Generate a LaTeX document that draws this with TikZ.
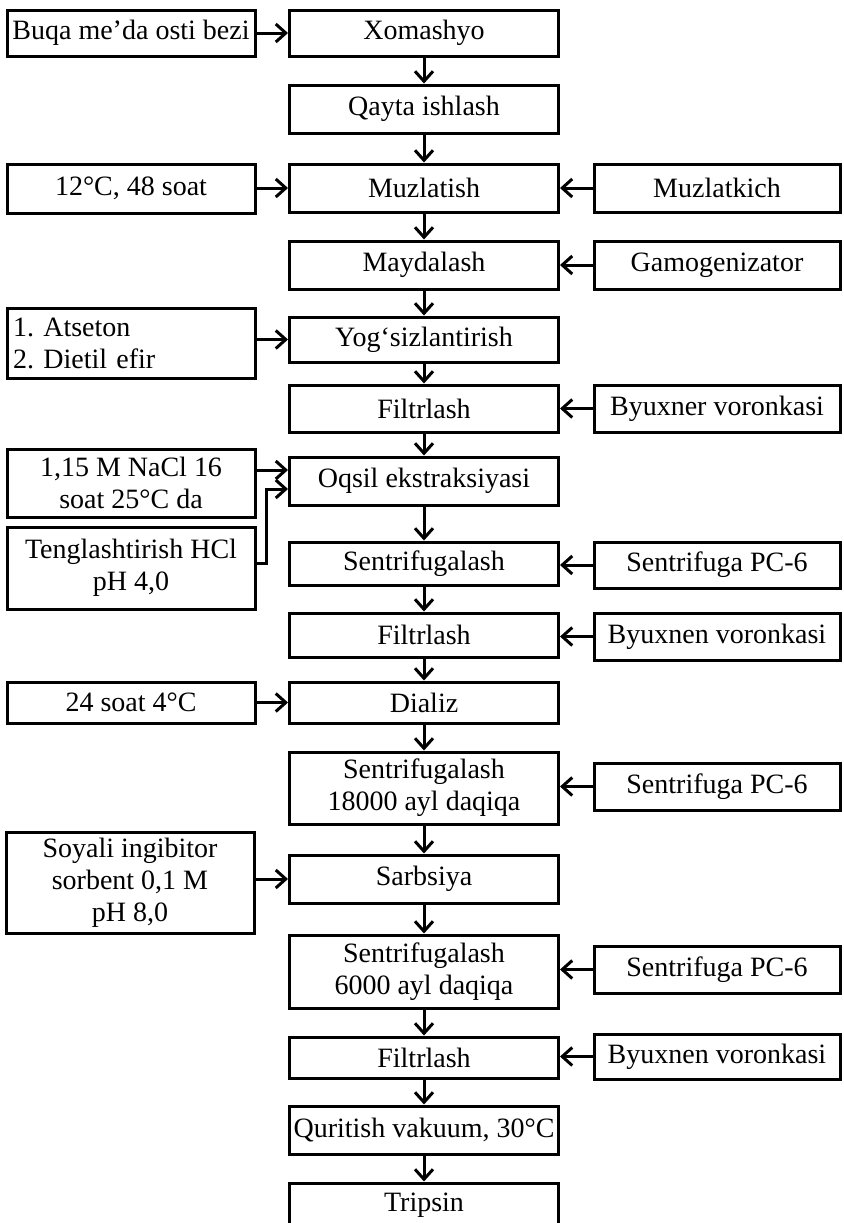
\documentclass[tikz,border=0pt]{standalone}
\usepackage{fontspec}
\setmainfont{Liberation Serif}
\usepackage{tikz}
\usetikzlibrary{arrows.meta}
\frenchspacing

\begin{document}
\begin{tikzpicture}[
  x=0.5pt, y=-0.5pt,
  font=\fontsize{14}{16}\selectfont,
  quti/.style={draw, line width=1.5pt, inner sep=1.5pt, align=center},
  chap/.style={quti, minimum width=124pt},
  orta/.style={quti, minimum width=134.5pt},
  ong/.style={quti, minimum width=123pt},
  strelka/.style={-{Straight Barb[length=5pt,width=9pt]}, line width=1.5pt}
]
  \useasboundingbox (0,0) rectangle (843,1223);

  % --- markaziy ustun (jarayon bosqichlari)
  \node[orta, minimum height=23pt] (xom) at (424,33) {Xomashyo};
  \node[orta, minimum height=24pt] (qayta) at (424,109) {Qayta ishlash};
  \node[orta, minimum height=24pt] (muz) at (424,188) {Muzlatish};
  \node[orta, minimum height=24pt] (may) at (424,265) {Maydalash};
  \node[orta, minimum height=22.5pt] (yog) at (424,339.5) {Yog‘sizlantirish};
  \node[orta, minimum height=23.5pt] (filt1) at (424,408.5) {Filtrlash};
  \node[orta, minimum height=24pt] (oqsil) at (424,481) {Oqsil ekstraksiyasi};
  \node[orta, minimum height=21.5pt] (sent1) at (424,563.5) {Sentrifugalash};
  \node[orta, minimum height=22pt] (filt2) at (424,635) {Filtrlash};
  \node[orta, minimum height=20.5pt] (dializ) at (424,702.5) {Dializ};
  \node[orta, minimum height=36pt] (sent2) at (424,788) {Sentrifugalash\\18000 ayl daqiqa};
  \node[orta, minimum height=24pt] (sarb) at (424,879) {Sarbsiya};
  \node[orta, minimum height=36.5pt] (sent3) at (424,971.5) {Sentrifugalash\\6000 ayl daqiqa};
  \node[orta, minimum height=20.5pt] (filt3) at (424,1057.5) {Filtrlash};
  \node[orta, minimum height=24pt] (quri) at (424,1130) {Quritish vakuum, 30°C};
  \node[orta, minimum height=22pt] (trip) at (424,1205) {Tripsin};

  % --- chap ustun (sharoit va reagentlar)
  \node[chap, minimum height=23pt] (buqa) at (131,33) {Buqa me’da osti bezi};
  \node[chap, minimum height=24.5pt] (harorat) at (131,188.5) {12°C, 48 soat};
  \node[quti, text width=118pt, inner xsep=3pt, align=left, minimum height=35pt] (atseton) at (131,343)
        {1. Atseton\\2. Dietil efir};
  \node[chap, minimum height=34pt] (nacl) at (131,483) {1,15 M NaCl 16\\soat 25°C da};
  \node[chap, minimum height=41pt] (teng) at (131,568) {Tenglashtirish HCl\\pH 4,0};
  \node[chap, minimum height=20.5pt] (soat) at (131,702.5) {24 soat 4°C};
  \node[chap, minimum height=50.5pt] (soyali) at (130,882.5)
        {Soyali ingibitor\\sorbent 0,1 M\\pH 8,0};

  % --- o'ng ustun (jihozlar)
  \node[ong, minimum height=24pt] (muzlatkich) at (717,188) {Muzlatkich};
  \node[ong, minimum height=24pt] (gamo) at (717,265) {Gamogenizator};
  \node[ong, minimum height=23.5pt] (byux1) at (717,408.5) {Byuxner voronkasi};
  \node[ong, minimum height=23pt] (pc1) at (717,565) {Sentrifuga PC-6};
  \node[ong, minimum height=23.5pt] (byux2) at (717,636.5) {Byuxnen voronkasi};
  \node[ong, minimum height=23.5pt] (pc2) at (717,786.5) {Sentrifuga PC-6};
  \node[ong, minimum height=23.5pt] (pc3) at (717,969.5) {Sentrifuga PC-6};
  \node[ong, minimum height=22.5pt] (byux3) at (717,1056.5) {Byuxnen voronkasi};

  % --- pastga strelkalar
  \foreach \a/\b in {xom/qayta, qayta/muz, muz/may, may/yog, yog/filt1, filt1/oqsil,
                     oqsil/sent1, sent1/filt2, filt2/dializ, dializ/sent2, sent2/sarb,
                     sarb/sent3, sent3/filt3, filt3/quri, quri/trip}
    \draw[strelka] (\a.south) -- (\b.north);

  % --- chapdan kiruvchi strelkalar
  \foreach \a/\b in {buqa/xom, harorat/muz, atseton/yog, soat/dializ, soyali/sarb}
    \draw[strelka] (\a.east |- \b.west) -- (\b.west);
  \coordinate (naclkir) at ([yshift=5.5pt]oqsil.west);
  \coordinate (tengkir) at ([yshift=-4pt]oqsil.west);
  \draw[strelka] (nacl.east |- naclkir) -- (naclkir);
  \draw[strelka] ([yshift=2.5pt]teng.east) -- ++(5pt,0) |- (tengkir);

  % --- o'ngdan kiruvchi strelkalar
  \foreach \a/\b in {muzlatkich/muz, gamo/may, byux1/filt1, pc1/sent1,
                     byux2/filt2, pc2/sent2, pc3/sent3, byux3/filt3}
    \draw[strelka] (\a.west) -- (\a.west -| \b.east);
\end{tikzpicture}
\end{document}
